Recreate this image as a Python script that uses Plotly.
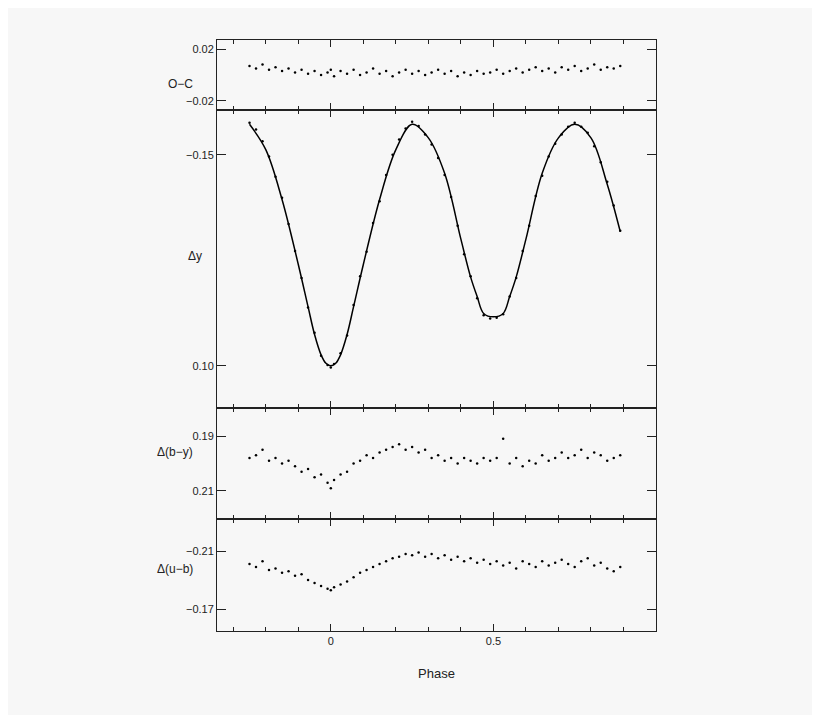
import plotly.graph_objects as go

phase = [-0.25,-0.23,-0.21,-0.19,-0.17,-0.15,-0.13,-0.11,-0.09,-0.07,-0.05,-0.03,-0.01,0.0,0.01,0.03,0.05,0.07,0.09,0.11,
         0.13,0.15,0.17,0.19,0.21,0.23,0.25,0.27,0.29,0.31,0.33,0.35,0.37,0.39,0.41,0.43,0.45,0.47,0.49,0.51,
         0.53,0.55,0.57,0.59,0.61,0.63,0.65,0.67,0.69,0.71,0.73,0.75,0.77,0.79,0.81,0.83,0.85,0.87,0.89]
dy = [-0.188,-0.180,-0.166,-0.148,-0.124,-0.099,-0.068,-0.036,-0.004,0.031,0.061,0.088,0.099,0.102,0.098,0.085,0.064,0.028,-0.006,-0.035,
      -0.069,-0.095,-0.126,-0.150,-0.168,-0.181,-0.189,-0.184,-0.174,-0.162,-0.146,-0.126,-0.100,-0.066,-0.032,-0.006,0.020,0.040,0.044,0.043,
      0.039,0.018,-0.004,-0.036,-0.066,-0.101,-0.125,-0.148,-0.163,-0.174,-0.183,-0.188,-0.183,-0.176,-0.160,-0.141,-0.118,-0.090,-0.060]
oc = [0.007,0.005,0.008,0.004,0.006,0.003,0.005,0.002,0.004,0.001,0.003,0.000,0.002,0.004,-0.001,0.003,0.001,0.004,0.000,0.002,
      0.005,0.001,0.003,-0.001,0.002,0.004,0.001,0.003,0.000,0.002,0.004,0.001,0.003,-0.001,0.002,0.000,0.003,0.001,0.002,0.004,
      0.001,0.003,0.005,0.002,0.004,0.006,0.003,0.005,0.002,0.006,0.004,0.007,0.003,0.005,0.008,0.004,0.006,0.005,0.007]
by = [0.198,0.197,0.195,0.199,0.198,0.200,0.199,0.201,0.203,0.202,0.205,0.204,0.207,0.209,0.206,0.204,0.203,0.200,0.199,0.197,
      0.198,0.196,0.195,0.194,0.193,0.195,0.194,0.196,0.195,0.198,0.197,0.199,0.198,0.200,0.198,0.199,0.200,0.198,0.199,0.198,
      0.191,0.200,0.198,0.201,0.199,0.200,0.197,0.199,0.198,0.196,0.198,0.197,0.195,0.198,0.196,0.197,0.199,0.198,0.197]
ub = [-0.201,-0.199,-0.203,-0.197,-0.198,-0.195,-0.196,-0.193,-0.194,-0.190,-0.188,-0.186,-0.184,-0.183,-0.185,-0.187,-0.189,-0.192,-0.195,-0.197,
      -0.199,-0.201,-0.203,-0.205,-0.206,-0.208,-0.207,-0.209,-0.206,-0.208,-0.205,-0.207,-0.204,-0.206,-0.203,-0.205,-0.202,-0.204,-0.201,-0.203,
      -0.200,-0.202,-0.198,-0.203,-0.201,-0.199,-0.203,-0.200,-0.202,-0.204,-0.201,-0.199,-0.203,-0.205,-0.200,-0.202,-0.198,-0.196,-0.199]
model_phase = [-0.25,-0.2,-0.15,-0.1,-0.07,-0.05,-0.03,-0.015,0,0.015,0.03,0.05,0.07,0.1,0.15,0.2,0.25,0.3,0.35,0.4,0.43,0.45,0.47,0.5,
               0.53,0.55,0.57,0.6,0.65,0.7,0.75,0.8,0.85,0.89]
model_dy = [-0.186,-0.156,-0.097,-0.020,0.030,0.063,0.087,0.097,0.100,0.097,0.087,0.063,0.030,-0.020,-0.097,-0.156,-0.186,-0.170,-0.128,-0.050,
            -0.005,0.018,0.038,0.042,0.038,0.018,-0.005,-0.050,-0.128,-0.170,-0.186,-0.170,-0.115,-0.059]

mk = dict(color="black", size=2.5)
fig = go.Figure()
fig.add_trace(go.Scatter(x=phase, y=oc, mode="markers", marker=mk, xaxis="x", yaxis="y"))
fig.add_trace(go.Scatter(x=phase, y=dy, mode="markers", marker=mk, xaxis="x2", yaxis="y2"))
fig.add_trace(go.Scatter(x=model_phase, y=model_dy, mode="lines", line=dict(color="black", width=1.5, shape="spline"), xaxis="x2", yaxis="y2"))
fig.add_trace(go.Scatter(x=phase, y=by, mode="markers", marker=mk, xaxis="x3", yaxis="y3"))
fig.add_trace(go.Scatter(x=phase, y=ub, mode="markers", marker=mk, xaxis="x4", yaxis="y4"))

ax = dict(showline=True, linecolor="#222", linewidth=1, mirror="ticks", ticks="inside", ticklen=7,
          tickcolor="#222", showgrid=False, zeroline=False, range=[-0.35, 1.0], tick0=0, dtick=0.5,
          minor=dict(ticks="inside", dtick=0.1, tick0=0, ticklen=4, tickcolor="#222"))
yax = dict(showline=True, linecolor="#222", linewidth=1, mirror="ticks", ticks="inside", ticklen=9,
           tickcolor="#222", showgrid=False, zeroline=False)
doms = [[0.8816, 1.0], [0.3773, 0.8816], [0.1895, 0.3773], [0.0, 0.1895]]
bg = "#f7f7f7"
fig.update_layout(
    width=820, height=715, margin=dict(l=209, r=172, t=32, b=92),
    paper_bgcolor=bg, plot_bgcolor=bg, showlegend=False,
    font=dict(family="Liberation Sans", size=11, color="#222"),
    xaxis=dict(ax, anchor="y", showticklabels=False),
    xaxis2=dict(ax, anchor="y2", matches="x", showticklabels=False),
    xaxis3=dict(ax, anchor="y3", matches="x", showticklabels=False),
    xaxis4=dict(ax, anchor="y4", matches="x", tickvals=[0, 0.5], ticktext=["0", "0.5"],
                title=dict(text="Phase", standoff=22)),
    yaxis=dict(yax, domain=doms[0], range=[-0.027, 0.027], tickvals=[0.02, -0.02], ticktext=["0.02", "−0.02"]),
    yaxis2=dict(yax, domain=doms[1], range=[0.15, -0.203], tickvals=[-0.15, 0.10], ticktext=["−0.15", "0.10"]),
    yaxis3=dict(yax, domain=doms[2], range=[0.2202, 0.1798], tickvals=[0.19, 0.21], ticktext=["0.19", "0.21"]),
    yaxis4=dict(yax, domain=doms[3], range=[-0.155, -0.232], tickvals=[-0.21, -0.17], ticktext=["−0.21", "−0.17"]),
)
for txt, x, y in [("O−C", -0.05, 0.941), ("Δy", -0.03, 0.635), ("Δ(b−y)", -0.05, 0.287), ("Δ(u−b)", -0.05, 0.09)]:
    fig.add_annotation(text=txt, xref="paper", yref="paper", x=x, y=y, showarrow=False, xanchor="right", font=dict(size=12))
fig.write_html("out.html")
